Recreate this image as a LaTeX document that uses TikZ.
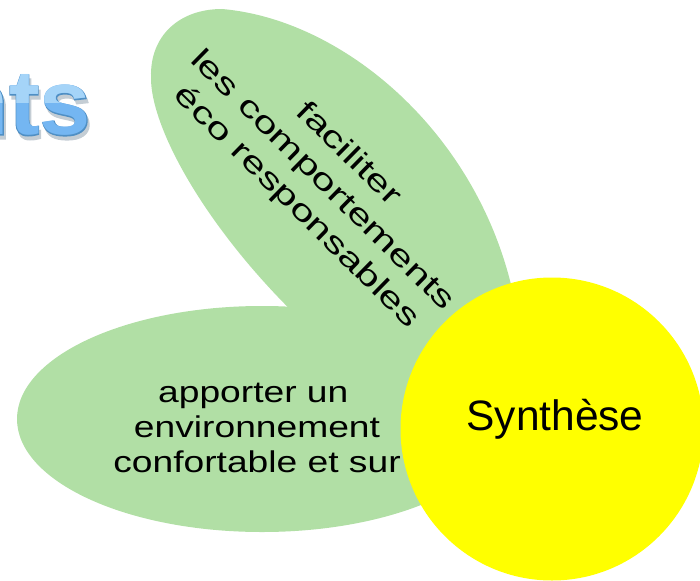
\documentclass[tikz,border=0pt]{standalone}
\usepackage{fontspec}
\setmainfont{Liberation Sans}
\definecolor{leaf}{HTML}{B1DFA5}
\definecolor{sun}{HTML}{FFFF00}
\definecolor{titlefill}{HTML}{74B6F2}
\definecolor{titleedge}{HTML}{4F8FC4}
\definecolor{titleshade}{HTML}{C4CDD4}
\definecolor{titlelight}{HTML}{A5D4F8}
\tikzset{
  petaltext/.style={align=center,font=\fontsize{30}{35}\selectfont,inner sep=0pt},
  titletext/.style={anchor=base east,inner sep=0pt,font=\bfseries\fontsize{92}{92}\selectfont}
}
\begin{document}
\begin{tikzpicture}[x=1pt,y=-1pt]
\useasboundingbox (0,0) rectangle (700,580);
\begin{scope}
\clip (0,0) rectangle (700,580);
\node[titletext,text=titleshade] (titleshadow) at (93,139) {\addfontfeature{FakeBold=1.5}nts};
\node[titletext,text=titleedge] (titleedge1) at (91,135) {\addfontfeature{FakeBold=1.5}nts};
\node[titletext,text=titlefill] (titlemain) at (91,135) {nts};
\end{scope}
\begin{scope}
\clip (0,60) rectangle (100,103);
\node[titletext,text=titlelight] (titletop) at (91,135) {nts};
\end{scope}
\fill[leaf] (222,9) .. controls (350,20) and (492,145) .. (518,320)
  .. controls (515,380) and (450,420) .. (400,400)
  .. controls (250,300) and (150,145) .. (151,77)
  .. controls (150,35) and (180,9) .. (222,9) -- cycle;
\fill[leaf] (262,419) ellipse [x radius=245,y radius=113];
\node[circle,fill=sun,minimum size=303pt,inner sep=0pt] (synth) at (552,429) {};
\node[inner sep=0pt,font=\fontsize{42.5}{42.5}\selectfont] (synthlabel) at (555,419) {Synthèse};
\node[petaltext,xscale=1.24] (low) at (257,428) {apporter un\hspace*{6pt}\\environnement\hspace*{6pt}\\confortable et sur};
\node[petaltext,rotate=-44.5,xscale=1.41,font=\fontsize{30}{37}\selectfont] (up) at (322,181) {faciliter\\les comportements\\éco responsables};
\end{tikzpicture}
\end{document}
